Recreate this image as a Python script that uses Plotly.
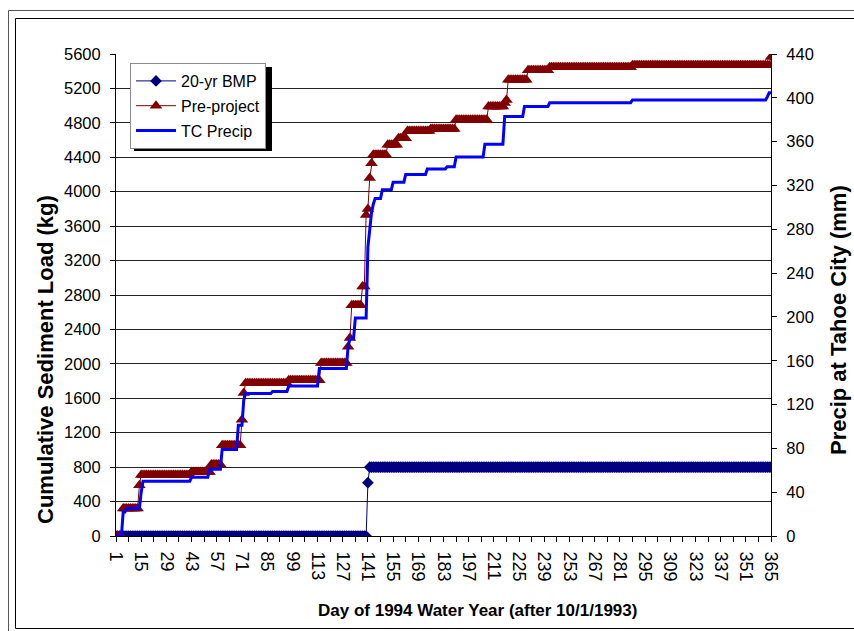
import plotly.graph_objects as go

# ---- data ----
# step breakpoints: (first day of the step, cumulative value)
bmp_steps = [(1, 0), (141, 620), (142, 800)]
pre_steps = [(1, 0), (5, 320), (14, 590), (15, 710), (43, 745), (54, 830), (60, 1055),
             (71, 1350), (72, 1660), (73, 1775), (97, 1810), (115, 2010), (130, 2200),
             (131, 2300), (132, 2680), (138, 2900), (140, 3730), (141, 3800), (142, 4160),
             (143, 4330), (144, 4430), (152, 4545), (158, 4620), (163, 4705), (176, 4730),
             (190, 4835), (208, 4990), (217, 5030), (218, 5065), (219, 5300), (230, 5410),
             (242, 5445), (288, 5470), (365, 5565)]
precip_steps = [(1, 0), (5, 22), (7, 25), (15, 40), (16, 50), (43, 53.6), (53, 61), (60, 79),
                (69, 101), (72, 124), (73, 130), (88, 132), (97, 137), (114, 153), (130, 173),
                (131, 180), (134, 199), (141, 264), (142, 280), (143, 295), (144, 303),
                (145, 308), (149, 316), (155, 323), (162, 330), (174, 335), (185, 337),
                (190, 346), (206, 357.6), (217, 383), (228, 392), (242, 395.5), (288, 398),
                (363, 401), (364, 404.7)]
days = list(range(1, 366))
left_ticks = list(range(0, 5601, 400))
right_ticks = list(range(0, 441, 40))
x_ticks = list(range(1, 366, 14))


def expand(steps):
    out = []
    for d in days:
        v = 0
        for sd, sv in steps:
            if d >= sd:
                v = sv
        out.append(v)
    return out


bmp = expand(bmp_steps)
pre = expand(pre_steps)
precip = expand(precip_steps)

FONT = "Liberation Sans, Arial, sans-serif"

W, H = 854, 631
L, R, T, B = 116, 771, 54, 536


def px(x):  # screen x -> paper
    return (x - L) / (R - L)


def py(y):  # screen y -> paper
    return (B - y) / (B - T)


fig = go.Figure()
fig.add_trace(go.Scatter(x=days, y=bmp, name="20-yr BMP", mode="lines+markers",
                         legendgroup="a",
                         line=dict(color="#000080", width=1),
                         marker=dict(symbol="diamond", size=9, color="#000080")))
fig.add_trace(go.Scatter(x=days, y=pre, name="Pre-project", mode="lines+markers",
                         legendgroup="b",
                         line=dict(color="#800000", width=1),
                         marker=dict(symbol="triangle-up", size=11, color="#800000")))
fig.add_trace(go.Scatter(x=days, y=precip, name="TC Precip", mode="lines", yaxis="y2",
                         legendgroup="c",
                         line=dict(color="#0000FF", width=3)))

fig.update_layout(
    width=W, height=H,
    margin=dict(l=L, r=W - R, t=T, b=H - B, autoexpand=False),
    paper_bgcolor="white", plot_bgcolor="white",
    showlegend=True,
    legend=dict(x=px(130), y=py(63), xanchor="left", yanchor="top",
                bgcolor="white", bordercolor="#8c8c8c", borderwidth=1,
                font=dict(family=FONT, size=16, color="black"),
                traceorder="grouped", tracegroupgap=1, itemwidth=40),
    xaxis=dict(range=[1, 365], tickmode="array", tickvals=x_ticks,
               ticktext=[str(v) for v in x_ticks], tickangle=90,
               ticks="outside", ticklen=5, tickcolor="black", ticklabelstandoff=6,
               minor=dict(tickmode="linear", tick0=1, dtick=7, ticks="outside", ticklen=5,
                          tickcolor="black"),
               showline=True, linecolor="black", linewidth=1, showgrid=False, zeroline=False,
               tickfont=dict(family=FONT, size=18, color="black")),
    xaxis2=dict(range=[1, 365], overlaying="x", anchor="y", side="bottom",
                tickmode="linear", tick0=1, dtick=7, ticks="inside", ticklen=5,
                tickcolor="black", showticklabels=False, showgrid=False, showline=False,
                zeroline=False),
    yaxis=dict(range=[0, 5600], tickmode="array", tickvals=left_ticks,
               ticks="outside", ticklen=5, tickcolor="black", ticklabelstandoff=6,
               showline=True, linecolor="black", linewidth=1,
               showgrid=True, gridcolor="#222222", gridwidth=1, zeroline=False,
               tickfont=dict(family=FONT, size=16.5, color="black")),
    yaxis2=dict(range=[0, 440], tickmode="array", tickvals=right_ticks, overlaying="y",
                side="right", anchor="x", ticks="outside", ticklen=5, tickcolor="black",
                ticklabelstandoff=6,
                showline=True, linecolor="black", linewidth=1, showgrid=False,
                zeroline=False, tickfont=dict(family=FONT, size=16.5, color="black")),
    yaxis3=dict(range=[0, 440], tickmode="array", tickvals=right_ticks, overlaying="y",
                side="right", anchor="x", ticks="inside", ticklen=5, tickcolor="black",
                showticklabels=False, showline=False, showgrid=False, zeroline=False),
    annotations=[
        dict(text="<b>Cumulative Sediment Load (kg)</b>", xref="paper", yref="paper",
             x=px(45), y=py(360), xanchor="center", yanchor="middle",
             textangle=-90, showarrow=False,
             font=dict(family=FONT, size=22, color="black")),
        dict(text="<b>Precip at Tahoe City (mm)</b>", xref="paper", yref="paper",
             x=px(838), y=py(320), xanchor="center", yanchor="middle",
             textangle=-90, showarrow=False,
             font=dict(family=FONT, size=22, color="black")),
        dict(text="<b>Day of 1994 Water Year (after 10/1/1993)</b>", xref="paper",
             yref="paper", x=px(477), y=py(610), xanchor="center", yanchor="middle",
             showarrow=False,
             font=dict(family=FONT, size=17, color="black")),
    ],
    shapes=[
        dict(type="rect", xref="paper", yref="paper", x0=px(8.5), y0=py(10.5), x1=px(900),
             y1=py(700), line=dict(color="#555555", width=1), layer="below"),
        dict(type="rect", xref="paper", yref="paper", x0=px(15.5), y0=py(18.5), x1=px(900),
             y1=py(628.5), line=dict(color="black", width=1), layer="below"),
        dict(type="rect", xref="paper", yref="paper", x0=px(134), y0=py(67), x1=px(272),
             y1=py(151), fillcolor="black", line=dict(width=0), layer="above"),
    ],
)

fig.write_html(
    "out.html",
    config={"displayModeBar": False},
    post_script="document.body.style.margin='0';"
                "document.documentElement.style.overflow='hidden';",
)
